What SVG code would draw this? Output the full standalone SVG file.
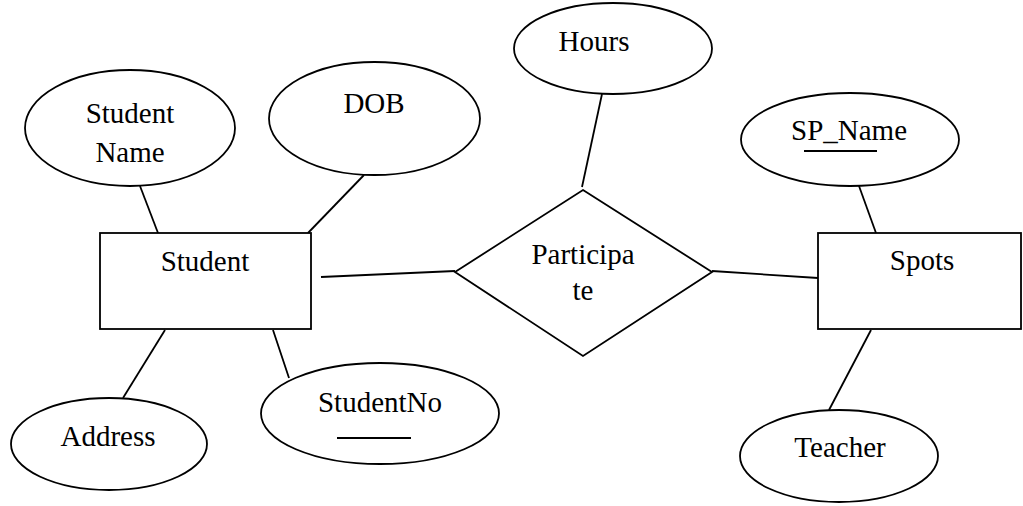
<svg xmlns="http://www.w3.org/2000/svg" width="1023" height="506" viewBox="0 0 1023 506">
  <style>
    .shape { fill: #ffffff; stroke: #000000; stroke-width: 1.8; }
    .link { stroke: #000000; stroke-width: 1.8; fill: none; }
    .key { stroke: #000000; stroke-width: 2.2; }
    text { font-family: 'Liberation Serif', 'Times New Roman', serif; font-size: 29px; fill: #000000; text-anchor: middle; }
  </style>
  <rect width="1023" height="506" fill="#ffffff"/>

  <!-- connectors -->
  <g id="connectors">
    <line class="link" x1="140" y1="186" x2="158" y2="233"/>
    <line class="link" x1="364" y1="175" x2="308" y2="233"/>
    <line class="link" x1="165" y1="330" x2="123" y2="398"/>
    <line class="link" x1="273" y1="330" x2="289" y2="378"/>
    <line class="link" x1="321" y1="277" x2="455" y2="271"/>
    <line class="link" x1="602" y1="94" x2="582" y2="187"/>
    <line class="link" x1="712" y1="271" x2="818" y2="278"/>
    <line class="link" x1="859" y1="186" x2="876" y2="233"/>
    <line class="link" x1="871" y1="330" x2="829" y2="410"/>
  </g>

  <!-- entity: Student -->
  <g id="student">
    <rect class="shape" x="100" y="233" width="211" height="96"/>
    <text x="205" y="271">Student</text>
  </g>

  <!-- entity: Spots -->
  <g id="spots">
    <rect class="shape" x="818" y="233" width="203" height="96"/>
    <text x="922" y="270">Spots</text>
  </g>

  <!-- relationship: Participate -->
  <g id="participate">
    <polygon class="shape" points="583,190 712,272 583,356 455,272"/>
    <text x="583" y="264">Participa</text>
    <text x="583" y="300">te</text>
  </g>

  <!-- attributes -->
  <g id="student-name">
    <ellipse class="shape" cx="130" cy="128" rx="105" ry="58"/>
    <text x="130" y="123">Student</text>
    <text x="130" y="162">Name</text>
  </g>

  <g id="dob">
    <ellipse class="shape" cx="374.5" cy="118.5" rx="105.5" ry="56.5"/>
    <text x="374" y="113">DOB</text>
  </g>

  <g id="address">
    <ellipse class="shape" cx="109" cy="444" rx="98" ry="46"/>
    <text x="108" y="446">Address</text>
  </g>

  <g id="student-no">
    <ellipse class="shape" cx="380" cy="413.5" rx="119" ry="50.5"/>
    <text x="380" y="412">StudentNo</text>
    <line class="key" x1="337" y1="438" x2="411" y2="438"/>
  </g>

  <g id="hours">
    <ellipse class="shape" cx="613" cy="48.5" rx="99" ry="45.5"/>
    <text x="594" y="51">Hours</text>
  </g>

  <g id="sp-name">
    <ellipse class="shape" cx="850" cy="139.5" rx="109" ry="46.5"/>
    <text x="849" y="140">SP_Name</text>
    <line class="key" x1="804" y1="151" x2="877" y2="151"/>
  </g>

  <g id="teacher">
    <ellipse class="shape" cx="839" cy="456" rx="99" ry="46"/>
    <text x="840" y="457">Teacher</text>
  </g>
</svg>
